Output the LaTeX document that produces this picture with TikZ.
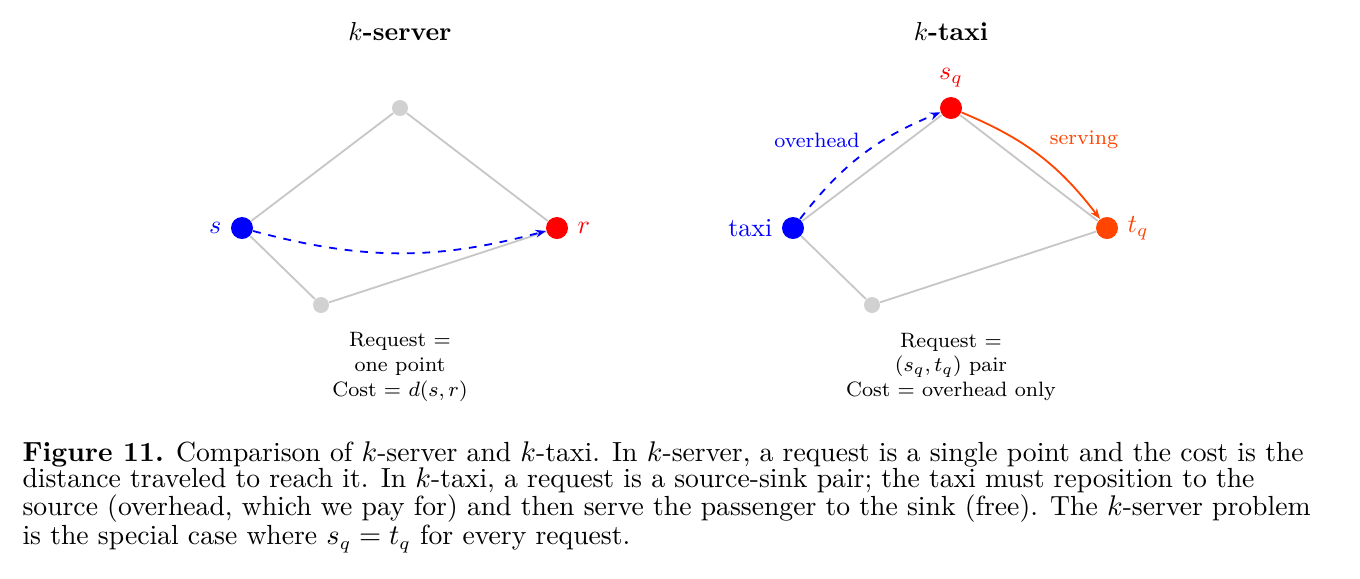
\documentclass[tikz,border=0pt]{standalone}
\usetikzlibrary{positioning,arrows.meta}
\usepackage{xcolor}
\definecolor{orr}{RGB}{255,69,0}
\begin{document}
\begin{tikzpicture}[x=0.385pt,y=-0.385pt,
  gp/.style={circle,fill=black!18,inner sep=0pt,minimum size=16*0.385pt},
  cp/.style={circle,fill=#1,inner sep=0pt,minimum size=22*0.385pt},
  ed/.style={black!22,line width=0.7pt},
  lab/.style={font=\footnotesize,align=center},
  arr/.style={line width=0.7pt,-{Stealth[length=4pt]}}]
\useasboundingbox (0,0) rectangle (1360,578);
\node[font=\bfseries] (t1) at (400,32) {$k$-server};
\node[font=\bfseries] (t2) at (951,32) {$k$-taxi};
% left
\node[gp] (a1) at (400,108) {};
\node[gp] (a2) at (321,305) {};
\node[cp=blue] (s) at (242,228) {};
\node[cp=red] (r) at (557,228) {};
\draw[ed] (s)--(a1)--(r)--(a2)--(s);
\node[blue,left=0pt of s] (sl) {$s$};
\node[red,right=0pt of r] (rl) {$r$};
\draw[arr,blue,dashed] (s) to[bend right=15] (r);
\node[lab] (l1) at (400,367) {Request =\\one point\\Cost = $d(s,r)$};
% right
\node[gp] (b2) at (872,305) {};
\node[cp=red] (sq) at (951,108) {};
\node[cp=blue] (tx) at (793,228) {};
\node[cp=orr] (tq) at (1107,228) {};
\draw[ed] (tx)--(sq)--(tq)--(b2)--(tx);
\node[red,above=0pt of sq] (sql) {$s_q$};
\node[orr,right=0pt of tq] (tql) {$t_q$};
\node[blue,left=0pt of tx] (txl) {taxi};
\draw[arr,blue,dashed] (tx) to[bend left=15] (sq);
\draw[arr,orr] (sq) to[bend left=15] (tq);
\node[lab,blue] (ov) at (817,140) {overhead};
\node[lab,orr] (sv) at (1084,140) {serving};
\node[lab] (l2) at (951,367) {Request =\\$(s_q,t_q)$ pair\\Cost = overhead only};
% caption
\node[anchor=north west,align=left,inner sep=0pt,font=\fontsize{10.65}{10}\selectfont] (cap) at (22,441) {\textbf{Figure 11.} Comparison of $k$-server and $k$-taxi. In $k$-server, a request is a single point and the cost is the\\
distance traveled to reach it. In $k$-taxi, a request is a source-sink pair; the taxi must reposition to the\\
source (overhead, which we pay for) and then serve the passenger to the sink (free). The $k$-server problem\\
is the special case where $s_q=t_q$ for every request.};
\end{tikzpicture}
\end{document}
